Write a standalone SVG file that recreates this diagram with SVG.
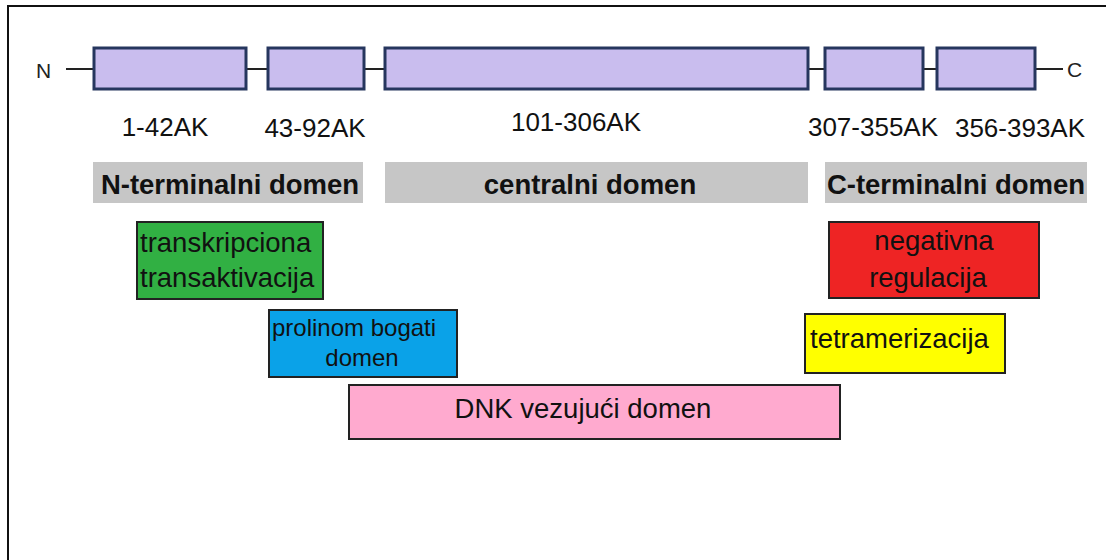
<svg xmlns="http://www.w3.org/2000/svg" width="1106" height="560" viewBox="0 0 1106 560">
<style>
.seg{fill:#c9bdee;stroke:#26365e;stroke-width:3}
.ln{stroke:#222;stroke-width:2;fill:none}
.lbl{font-family:"Liberation Sans",Arial,sans-serif;font-size:26px;fill:#111}
.bar{fill:#c6c6c6}
.bt{font-family:"Liberation Sans",Arial,sans-serif;font-size:27.5px;font-weight:bold;fill:#111}
.box{stroke:#222;stroke-width:2}
.tx{font-family:"Liberation Sans",Arial,sans-serif;font-size:27.5px;fill:#111}
.end{font-family:"Liberation Sans",Arial,sans-serif;font-size:21px;fill:#222}
</style>
<rect width="1106" height="560" fill="#fff"/>
<path d="M8 560 V6 H1106" stroke="#111" stroke-width="2" fill="none"/>
<g id="connectors">
<line class="ln" x1="66" y1="69" x2="93" y2="69"/>
<line class="ln" x1="246" y1="69" x2="268" y2="69"/>
<line class="ln" x1="364" y1="69" x2="385" y2="69"/>
<line class="ln" x1="808" y1="69" x2="825" y2="69"/>
<line class="ln" x1="923" y1="69" x2="937" y2="69"/>
<line class="ln" x1="1035" y1="69" x2="1063" y2="69"/>
</g>
<g id="N-end"><text class="end" x="36" y="78">N</text></g>
<g id="C-end"><text class="end" x="1067" y="77">C</text></g>
<g id="seg1"><rect class="seg" x="94" y="48" width="152" height="41"/><text class="lbl" x="165" y="136" text-anchor="middle">1-42AK</text></g>
<g id="seg2"><rect class="seg" x="268" y="48" width="96" height="41"/><text class="lbl" x="315" y="137" text-anchor="middle">43-92AK</text></g>
<g id="seg3"><rect class="seg" x="385" y="48" width="423" height="41"/><text class="lbl" x="576" y="131" text-anchor="middle">101-306AK</text></g>
<g id="seg4"><rect class="seg" x="825" y="48" width="98" height="41"/><text class="lbl" x="873" y="136" text-anchor="middle">307-355AK</text></g>
<g id="seg5"><rect class="seg" x="937" y="48" width="98" height="41"/><text class="lbl" x="1020" y="137" text-anchor="middle">356-393AK</text></g>
<g id="ndomain"><rect class="bar" x="93" y="162" width="270" height="41"/><text class="bt" x="230" y="194" text-anchor="middle">N-terminalni domen</text></g>
<g id="cdomain-central"><rect class="bar" x="385" y="162" width="423" height="41"/><text class="bt" x="590" y="194" text-anchor="middle">centralni domen</text></g>
<g id="cdomain"><rect class="bar" x="825" y="162" width="262" height="41"/><text class="bt" x="956" y="194" text-anchor="middle">C-terminalni domen</text></g>
<g id="transaktivacija"><rect class="box" x="137" y="222" width="186" height="77" fill="#31b043"/><text class="tx" x="140" y="252">transkripciona</text><text class="tx" x="140" y="287">transaktivacija</text></g>
<g id="prolin"><rect class="box" x="269" y="310" width="188" height="67" fill="#0aa2e8"/><text class="tx" x="272" y="336" style="font-size:24px">prolinom bogati</text><text class="tx" x="362" y="366" text-anchor="middle" style="font-size:24px">domen</text></g>
<g id="dnk"><rect class="box" x="349" y="385" width="491" height="54" fill="#ffaacf"/><text class="tx" x="583" y="418" text-anchor="middle">DNK vezujući domen</text></g>
<g id="negativna"><rect class="box" x="829" y="222" width="210" height="76" fill="#ee2424"/><text class="tx" x="934" y="250" text-anchor="middle">negativna</text><text class="tx" x="928" y="287" text-anchor="middle">regulacija</text></g>
<g id="tetramerizacija"><rect class="box" x="805" y="314" width="200" height="59" fill="#ffff00"/><text class="tx" x="810" y="348">tetramerizacija</text></g>
</svg>
